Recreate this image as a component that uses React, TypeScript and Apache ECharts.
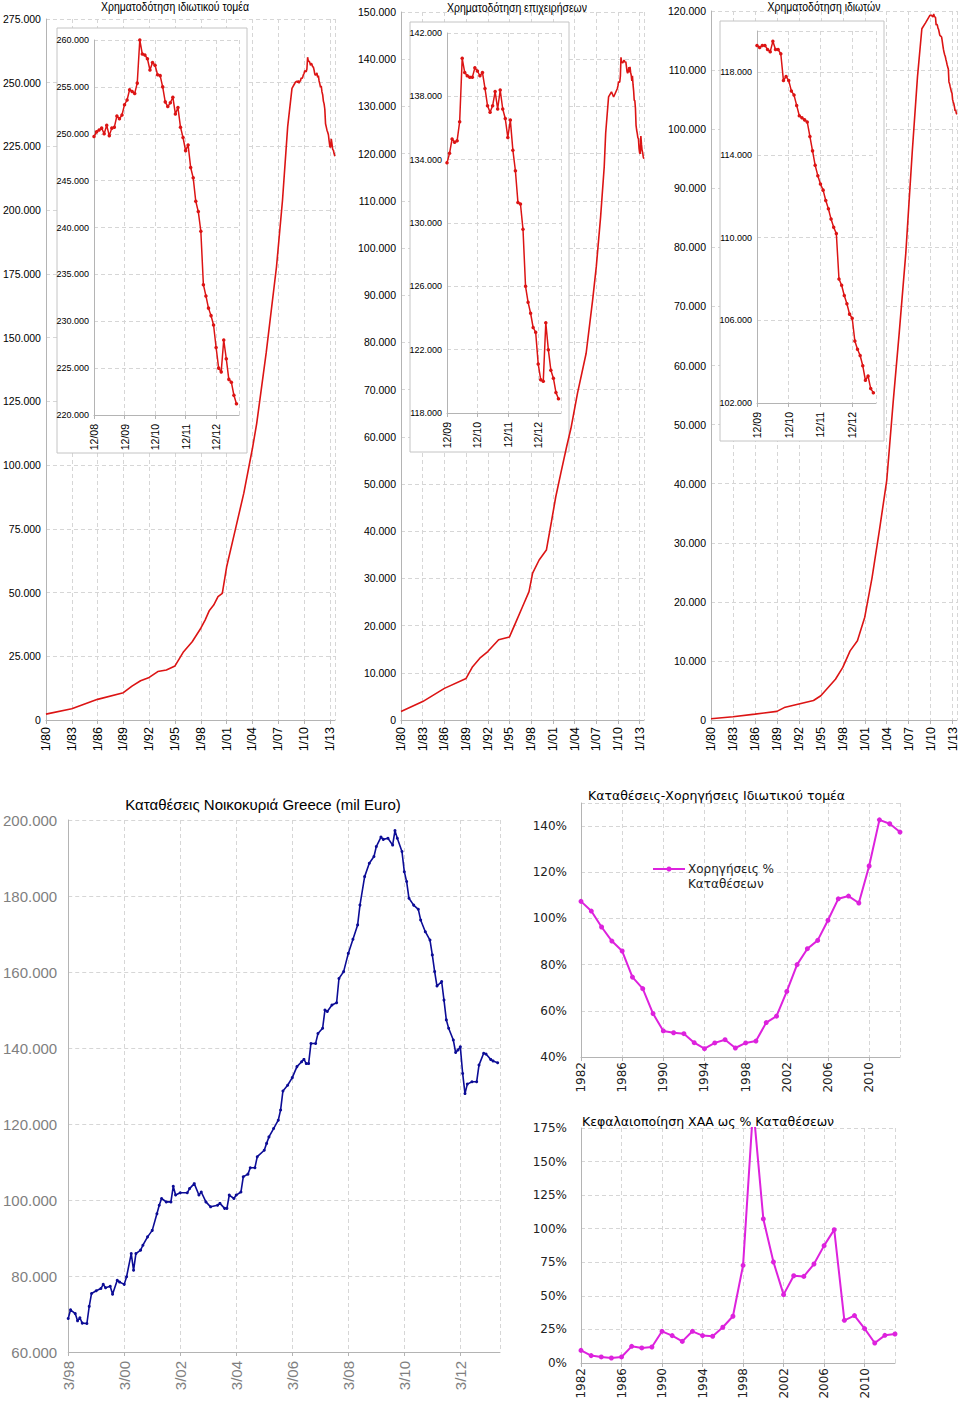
import React, { useEffect, useRef } from "react";
import * as echarts from "echarts";

// ---------------- DATA ----------------
// Χρηματοδότηση ιδιωτικού τομέα (thousand mil €) — sparse readings before the inset period
const creditEarlyYears = [1980, 1983, 1986, 1989, 1990, 1991, 1992, 1993, 1994, 1995, 1996, 1997, 1998, 1998.5, 1999, 1999.5, 2000, 2000.5, 2001, 2002, 2003, 2004, 2004.5, 2005.6, 2006.8, 2007.5, 2008.1, 2008.6];
const creditEarlyK = [2.3, 4.4, 8.1, 10.7, 13.3, 15.4, 16.7, 19.0, 19.6, 21.2, 26.8, 30.7, 36.0, 39.2, 43.0, 45.1, 48.4, 49.7, 60.0, 74.5, 89.0, 106.5, 116.4, 144.0, 177.8, 204.0, 232.8, 247.8];
// monthly, from 12/08
const creditInsetStart = 2008 + 11 / 12;
const creditInsetK = [249.7, 250.2, 250.4, 250.6, 250.0, 250.9, 249.8, 250.6, 250.7, 251.9, 251.6, 252.0, 253.1, 253.6, 254.7, 254.5, 254.3, 255.4, 260.0, 258.5, 258.4, 258.0, 256.8, 257.6, 257.3, 256.3, 256.2, 255.0, 253.4, 252.9, 253.3, 253.9, 252.1, 252.8, 250.7, 249.6, 248.2, 248.8, 246.4, 245.3, 242.8, 241.7, 239.6, 233.9, 232.7, 231.4, 230.6, 229.6, 227.2, 225.0, 224.6, 228.0, 226.0, 223.8, 223.5, 222.1, 221.2];

// Χρηματοδότηση επιχειρήσεων
const businessEarlyYears = [1980, 1983, 1986, 1989, 1989.9, 1990.9, 1992, 1993.5, 1995, 1995.9, 1996.8, 1997.7, 1998.2, 1999.1, 2000.1, 2000.8, 2001.4, 2002.1, 2002.9, 2003.5, 2004.4, 2005.6, 2006.5, 2007.0, 2007.6, 2008.1, 2008.3, 2008.7, 2009.1, 2009.4];
const businessEarlyK = [1.8, 3.9, 6.7, 8.8, 11.3, 13.1, 14.5, 17.0, 17.6, 20.8, 24.0, 27.2, 31.1, 33.9, 36.0, 42.0, 47.3, 52.3, 57.9, 61.8, 69.2, 77.7, 89.0, 96.0, 106.6, 117.2, 124.3, 132.0, 133.1, 132.0];
const businessInsetStart = 2009 + 11 / 12;
const businessInsetK = [133.8, 134.4, 135.3, 135.1, 135.2, 136.4, 140.4, 139.5, 139.3, 139.2, 139.2, 139.8, 139.6, 139.3, 139.5, 138.5, 137.4, 137.0, 137.4, 138.3, 137.2, 138.4, 137.2, 136.6, 135.4, 136.5, 134.6, 133.3, 131.3, 131.2, 129.6, 126.0, 125.0, 124.3, 123.4, 123.1, 121.1, 120.1, 120.0, 123.7, 122.0, 120.7, 120.2, 119.3, 118.9];

// Χρηματοδότηση ιδιωτών
const householdEarlyYears = [1980, 1983, 1986, 1989, 1990, 1992, 1994, 1995, 1996, 1997, 1998, 1999, 2000, 2001, 2002, 2003, 2004, 2004.4, 2004.9, 2005.7, 2006.6, 2007.5, 2008.2, 2008.8, 2009.3];
const householdEarlyK = [0.2, 0.56, 1.0, 1.46, 2.1, 2.7, 3.3, 4.1, 5.5, 6.9, 8.9, 11.7, 13.4, 17.4, 24.1, 32.1, 40.5, 46.5, 54.1, 65.4, 78.9, 96.4, 108.8, 117.0, 118.0];
const householdInsetStart = 2009 + 11 / 12;
const householdInsetK = [119.3, 119.2, 119.3, 119.3, 119.1, 119.0, 119.5, 119.1, 119.1, 118.9, 117.6, 117.8, 117.6, 117.1, 116.9, 116.4, 115.9, 115.8, 115.7, 115.6, 114.9, 114.2, 113.5, 113.0, 112.6, 112.3, 111.8, 111.4, 110.9, 110.5, 110.2, 108.0, 107.7, 107.2, 106.8, 106.3, 106.1, 105.0, 104.6, 104.3, 103.8, 103.1, 103.3, 102.7, 102.5];

// Καταθέσεις Νοικοκυριά (months since 3/98, thousand mil €)
const depositMonths = [0, 1, 3, 4, 5, 6, 8, 9, 10, 12, 14, 15, 16, 18, 19, 21, 22, 24, 25, 27, 28, 29, 31, 32, 34, 36, 38, 39, 40, 42, 44, 45, 46, 48, 51, 52, 54, 56, 57, 59, 61, 64, 65, 67, 68, 69, 71, 72, 74, 75, 77, 78, 80, 81, 84, 85, 86, 88, 90, 91, 92, 94, 96, 98, 100, 101, 102, 103, 104, 106, 107, 109, 110, 111, 113, 115, 116, 118, 120, 122, 124, 125, 127, 129, 131, 132, 134, 135, 137, 139, 140, 141, 143, 144, 145, 146, 148, 150, 151, 153, 155, 156, 157, 158, 160, 161, 162, 163, 165, 166, 167, 168, 169, 170, 171, 173, 175, 176, 178, 179, 181, 182, 184];
const depositK = [68.8, 71.1, 70.1, 68.2, 69.0, 67.6, 67.5, 72.0, 75.4, 76.1, 76.7, 77.8, 76.9, 77.3, 75.2, 78.9, 78.4, 77.8, 79.8, 85.9, 81.5, 85.9, 86.8, 88.1, 90.3, 92.0, 96.4, 98.6, 100.4, 99.5, 99.5, 103.6, 101.3, 101.9, 101.9, 103.0, 104.3, 101.3, 102.1, 99.5, 98.2, 98.6, 99.1, 97.8, 97.8, 101.3, 100.4, 101.3, 102.1, 106.1, 106.8, 108.5, 108.5, 111.4, 113.1, 114.9, 116.6, 118.8, 121.0, 123.7, 128.7, 130.2, 132.2, 135.1, 136.4, 137.0, 135.9, 135.9, 141.2, 141.2, 143.8, 145.2, 150.0, 149.6, 151.3, 151.9, 158.3, 160.1, 164.9, 168.6, 172.4, 177.6, 185.1, 188.6, 190.4, 193.0, 195.5, 194.9, 195.2, 193.4, 197.2, 195.2, 191.7, 186.4, 183.8, 179.4, 177.6, 176.5, 173.7, 170.6, 168.4, 164.5, 160.1, 156.3, 157.5, 152.6, 147.4, 145.2, 142.1, 138.8, 139.5, 140.3, 133.3, 128.0, 130.5, 131.1, 131.1, 135.5, 138.6, 138.4, 137.0, 136.6, 136.1];

// Annual ratios
const ratioYears = [1982, 1983, 1984, 1985, 1986, 1987, 1988, 1989, 1990, 1991, 1992, 1993, 1994, 1995, 1996, 1997, 1998, 1999, 2000, 2001, 2002, 2003, 2004, 2005, 2006, 2007, 2008, 2009, 2010, 2011, 2012, 2013];
const loansToDepositsPct = [107.4, 103.2, 96.3, 90.2, 85.9, 74.6, 69.6, 58.8, 51.3, 50.5, 50.1, 46.2, 43.6, 46.1, 47.5, 43.9, 46.1, 46.9, 54.9, 57.7, 68.4, 80.0, 86.9, 90.5, 99.2, 108.5, 109.7, 106.7, 122.7, 142.7, 141.0, 137.4];
const marketCapToDepositsPct = [9.4, 5.5, 4.5, 3.7, 4.5, 12.4, 11.2, 11.9, 23.6, 20.4, 16.1, 23.6, 20.4, 19.9, 26.6, 34.8, 72.7, 191, 107.3, 75.2, 50.9, 65.0, 64.5, 73.7, 87.4, 99.3, 31.8, 35.3, 25.6, 14.9, 20.6, 21.6];

const titleCredit = "Χρηματοδότηση ιδιωτικού τομέα";
const titleBusiness = "Χρηματοδότηση επιχειρήσεων";
const titleHousehold = "Χρηματοδότηση ιδιωτών";
const titleDeposits = "Καταθέσεις Νοικοκυριά Greece (mil Euro)";
const titleRatio = "Καταθέσεις-Χορηγήσεις Ιδιωτικού τομέα";
const titleMarketCap = "Κεφαλαιοποίηση ΧΑΑ ως % Καταθέσεων";
const legendRatio = "Χορηγήσεις %\nΚαταθέσεων";

// ---------------- STYLE ----------------
const NARROW = "'Liberation Sans Narrow', 'Arial Narrow', 'Liberation Sans', Arial, sans-serif";
const ARIAL = "'Liberation Sans', Arial, sans-serif";
const WIDE = "'DejaVu Sans', Verdana, sans-serif";
const RED = "#dc1414";
const BLUE = "#0c0c96";
const MAGENTA = "#dd22dd";
const GRID_LINE = { show: true, lineStyle: { color: "#d6d6d6", type: [4, 3] as number[], width: 1 } };
const AXIS_LINE = { show: true, lineStyle: { color: "#b4b4b4", width: 1 } };
const TICK = { show: true, length: 4, lineStyle: { color: "#b4b4b4" } };

const yy = (y: number) => String(Math.round(y) % 100).padStart(2, "0");
const fmtK = (v: number) => (v === 0 ? "0" : `${Math.round(v)}.000`);

function pairs(xs: number[], ys: number[]) {
  return xs.map((x, i) => [x, ys[i]]);
}
function monthly(start: number, ys: number[]) {
  return ys.map((v, i) => [start + i / 12, v]);
}
function indexed(ys: number[]) {
  return ys.map((v, i) => [i, v]);
}

function mainX(grid: number) {
  return {
    type: "value", gridIndex: grid, min: 1980, max: 2013.6, interval: 3,
    axisLine: AXIS_LINE, axisTick: TICK, splitLine: GRID_LINE,
    axisLabel: { rotate: 90, fontFamily: NARROW, fontSize: 12.5, color: "#000", margin: 7, showMaxLabel: false, formatter: (v: number) => `1/${yy(v)}` },
  };
}
function mainY(grid: number, max: number, interval: number) {
  return {
    type: "value", gridIndex: grid, min: 0, max, interval,
    axisLine: AXIS_LINE, axisTick: { show: false }, splitLine: GRID_LINE,
    axisLabel: { fontFamily: NARROW, fontSize: 10.5, color: "#000", margin: 5, formatter: fmtK },
  };
}
function insetX(grid: number, max: number, startYear: number) {
  return {
    type: "value", gridIndex: grid, min: 0, max, interval: 12, z: 3,
    axisLine: AXIS_LINE, axisTick: TICK, splitLine: GRID_LINE,
    axisLabel: { rotate: 90, fontFamily: NARROW, fontSize: 10.5, color: "#000", margin: 9, showMaxLabel: false, formatter: (m: number) => `12/${yy(startYear + m / 12)}` },
  };
}
function insetY(grid: number, min: number, max: number, interval: number) {
  return {
    type: "value", gridIndex: grid, min, max, interval, z: 3,
    axisLine: AXIS_LINE, axisTick: { show: false }, splitLine: GRID_LINE,
    axisLabel: { fontFamily: NARROW, fontSize: 9, color: "#000", margin: 5, showMaxLabel: max % interval === min % interval, formatter: fmtK },
  };
}
function mainSeries(idx: number, data: number[][]) {
  return {
    type: "line", xAxisIndex: idx, yAxisIndex: idx, data, showSymbol: false, silent: true,
    lineStyle: { color: RED, width: 1.6 }, itemStyle: { color: RED }, z: 2,
  };
}
function insetSeries(idx: number, data: number[][]) {
  return {
    type: "line", xAxisIndex: idx, yAxisIndex: idx, data, symbol: "circle", symbolSize: 3.5, silent: true,
    lineStyle: { color: RED, width: 1.5 }, itemStyle: { color: RED }, z: 4,
  };
}

function buildOption() {
  const grids = [
    { left: 44, top: 19, width: 291, height: 701 },
    { left: 401, top: 12, width: 243, height: 708 },
    { left: 711, top: 11, width: 246, height: 709 },
    { left: 94, top: 40, width: 145, height: 375 },
    { left: 447, top: 33, width: 114, height: 380 },
    { left: 757, top: 31, width: 119, height: 372 },
    { left: 68, top: 820, width: 432, height: 532 },
    { left: 581, top: 803, width: 319, height: 254 },
    { left: 581, top: 1128, width: 314, height: 235 },
  ];

  const xAxis: any[] = [
    mainX(0), mainX(1), mainX(2),
    insetX(3, 57, 2008), insetX(4, 45, 2009), insetX(5, 45, 2009),
    {
      type: "value", gridIndex: 6, min: 0, max: 185, interval: 24,
      axisLine: AXIS_LINE, axisTick: TICK, splitLine: GRID_LINE,
      axisLabel: { rotate: 90, fontFamily: ARIAL, fontSize: 15, color: "#7f7f7f", margin: 9, showMaxLabel: false, formatter: (m: number) => `3/${yy(1998 + m / 12)}` },
    },
    {
      type: "value", gridIndex: 7, min: 1982, max: 2013, interval: 4,
      axisLine: AXIS_LINE, axisTick: TICK, splitLine: GRID_LINE,
      axisLabel: { rotate: 90, fontFamily: WIDE, fontSize: 12, color: "#222", margin: 5, showMaxLabel: false, formatter: (v: number) => String(Math.round(v)) },
    },
    {
      type: "value", gridIndex: 8, min: 1982, max: 2013, interval: 4,
      axisLine: AXIS_LINE, axisTick: TICK, splitLine: GRID_LINE,
      axisLabel: { rotate: 90, fontFamily: WIDE, fontSize: 12, color: "#222", margin: 5, showMaxLabel: false, formatter: (v: number) => String(Math.round(v)) },
    },
  ];

  const yAxis: any[] = [
    mainY(0, 275, 25), mainY(1, 150, 10), mainY(2, 120, 10),
    insetY(3, 220, 260, 5), insetY(4, 118, 142, 4), insetY(5, 102, 120, 4),
    {
      type: "value", gridIndex: 6, min: 60, max: 200, interval: 20,
      axisLine: AXIS_LINE, axisTick: { show: false }, splitLine: GRID_LINE,
      axisLabel: { fontFamily: ARIAL, fontSize: 15, color: "#7f7f7f", margin: 11, formatter: fmtK },
    },
    {
      type: "value", gridIndex: 7, min: 40, max: 150, interval: 20,
      axisLine: AXIS_LINE, axisTick: { show: false }, splitLine: GRID_LINE,
      axisLabel: { fontFamily: WIDE, fontSize: 12, color: "#222", margin: 14, showMaxLabel: false, formatter: (v: number) => `${v}%` },
    },
    {
      type: "value", gridIndex: 8, min: 0, max: 175, interval: 25,
      axisLine: AXIS_LINE, axisTick: { show: false }, splitLine: GRID_LINE,
      axisLabel: { fontFamily: WIDE, fontSize: 12, color: "#222", margin: 14, formatter: (v: number) => `${v}%` },
    },
  ];

  const series: any[] = [
    mainSeries(0, pairs(creditEarlyYears, creditEarlyK).concat(monthly(creditInsetStart, creditInsetK))),
    mainSeries(1, pairs(businessEarlyYears, businessEarlyK).concat(monthly(businessInsetStart, businessInsetK))),
    mainSeries(2, pairs(householdEarlyYears, householdEarlyK).concat(monthly(householdInsetStart, householdInsetK))),
    insetSeries(3, indexed(creditInsetK)),
    insetSeries(4, indexed(businessInsetK)),
    insetSeries(5, indexed(householdInsetK)),
    {
      type: "line", xAxisIndex: 6, yAxisIndex: 6, data: pairs(depositMonths, depositK), symbol: "circle", symbolSize: 3, silent: true,
      lineStyle: { color: BLUE, width: 1.6 }, itemStyle: { color: BLUE },
    },
    {
      type: "line", name: "Χορηγήσεις % Καταθέσεων", xAxisIndex: 7, yAxisIndex: 7, data: pairs(ratioYears, loansToDepositsPct), symbol: "circle", symbolSize: 5, silent: true,
      lineStyle: { color: MAGENTA, width: 2 }, itemStyle: { color: MAGENTA },
    },
    {
      type: "line", xAxisIndex: 8, yAxisIndex: 8, data: pairs(ratioYears, marketCapToDepositsPct), symbol: "circle", symbolSize: 5, silent: true, clip: true,
      lineStyle: { color: MAGENTA, width: 2 }, itemStyle: { color: MAGENTA },
    },
  ];

  const box = (x: number, y: number, w: number, h: number) => ({
    type: "rect", z: 1, silent: true, shape: { x, y, width: w, height: h },
    style: { fill: "#ffffff", stroke: "#c4c4c4", lineWidth: 1 },
  });
  const text = (x: number, y: number, t: string, family: string, size: number, align = "center", scaleX = 1, color = "#000") => ({
    type: "text", z: 10, silent: true, x, y, scaleX,
    style: { text: t, fontFamily: family, fontSize: size, fill: color, align, verticalAlign: "middle" },
  });

  const graphic: any[] = [
    box(57, 28, 190, 425),
    box(410, 22, 159, 430),
    box(720, 21, 164, 420),
    text(175, 7, titleCredit, NARROW, 12, "center", 0.87),
    text(517, 8, titleBusiness, NARROW, 12, "center", 0.87),
    text(824, 7, titleHousehold, NARROW, 12, "center", 0.87),
    text(263, 804, titleDeposits, ARIAL, 15),
    text(588, 795, titleRatio, WIDE, 12.5, "left"),
    text(582, 1121, titleMarketCap, WIDE, 12.5, "left"),
    {
      type: "line", z: 10, silent: true, shape: { x1: 653, y1: 869, x2: 685, y2: 869 },
      style: { stroke: MAGENTA, lineWidth: 2 },
    },
    { type: "circle", z: 10, silent: true, shape: { cx: 669, cy: 869, r: 2.5 }, style: { fill: MAGENTA } },
    {
      type: "text", z: 10, silent: true, x: 688, y: 861.5,
      style: { text: legendRatio, fontFamily: WIDE, fontSize: 12, fill: "#222", align: "left", verticalAlign: "top", lineHeight: 15 },
    },
  ];

  return { animation: false, backgroundColor: "#ffffff", grid: grids, xAxis, yAxis, series, graphic };
}

export default function App() {
  const ref = useRef<HTMLDivElement>(null);
  useEffect(() => {
    if (!ref.current) return;
    const chart = echarts.init(ref.current, null, { renderer: "svg" });
    chart.setOption(buildOption() as any);
    return () => chart.dispose();
  }, []);
  return <div ref={ref} style={{ position: "absolute", left: 0, top: 0, width: 960, height: 1402, background: "#fff" }} />;
}
